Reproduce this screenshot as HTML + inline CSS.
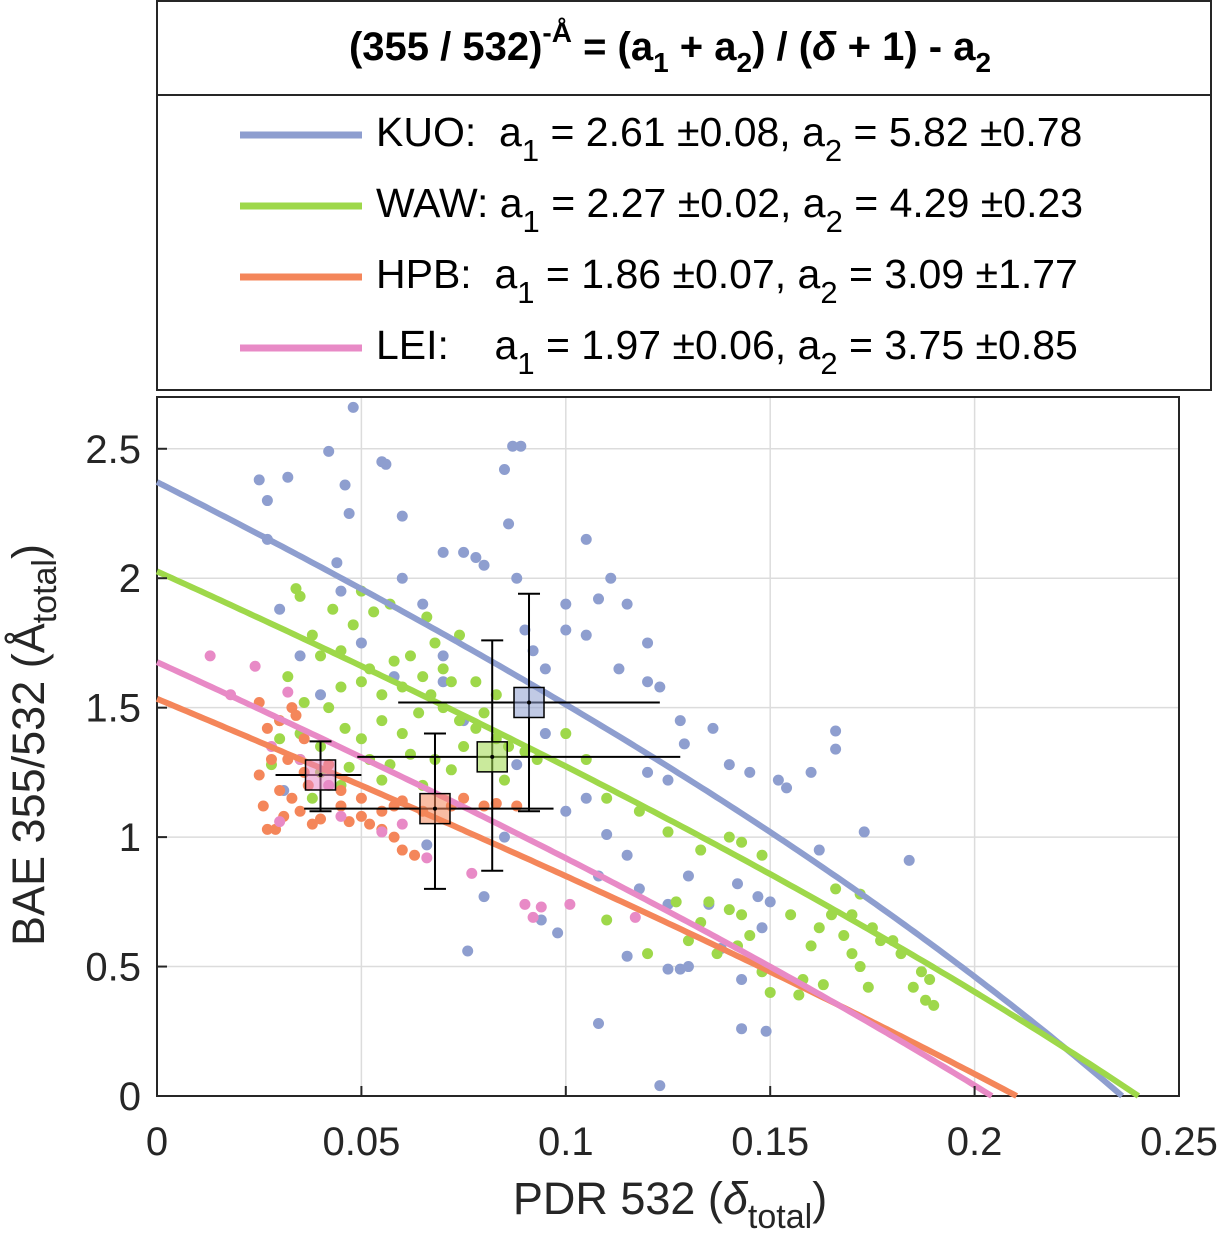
<!DOCTYPE html>
<html><head><meta charset="utf-8"><style>
body{margin:0;background:#fff;}
svg{display:block;font-family:"Liberation Sans",sans-serif;}
</style></head><body>
<svg id="chart" width="1222" height="1239" viewBox="0 0 1222 1239">
<rect x="157" y="1" width="1054" height="389" fill="#fff" stroke="#262626" stroke-width="2"/>
<line x1="157" y1="95" x2="1211" y2="95" stroke="#262626" stroke-width="2"/>
<text x="670" y="60" text-anchor="middle" font-size="40" font-weight="bold" fill="#000">(355 / 532)<tspan dy="-18" font-size="28">-Å</tspan><tspan dy="18"> = (a</tspan><tspan dy="12" font-size="28">1</tspan><tspan dy="-12"> + a</tspan><tspan dy="12" font-size="28">2</tspan><tspan dy="-12">) / (</tspan><tspan font-style="italic">δ</tspan><tspan> + 1) - a</tspan><tspan dy="12" font-size="28">2</tspan></text>
<g id="legend"></g>
<g id="grid"></g>
<rect x="157" y="397" width="1022" height="699" fill="none" stroke="#262626" stroke-width="2"/>
<g id="points"></g>
<g id="curves"></g>
<g id="errs"></g>
<g id="ticks"></g>
<text transform="translate(44,745) rotate(-90)" text-anchor="middle" font-size="45" fill="#262626">BAE 355/532 (Å<tspan dy="12" font-size="34">total</tspan><tspan dy="-12">)</tspan></text>
<text x="670" y="1214" text-anchor="middle" font-size="45" fill="#262626">PDR 532 (<tspan font-style="italic">δ</tspan><tspan dy="14" font-size="34">total</tspan><tspan dy="-14">)</tspan></text>
</svg>
<script>
const seriesNames=["KUO","WAW","HPB","LEI"];
const colors=["#8e9ecf","#9ed84a","#f4865a","#e88ac6"];
const a1=[2.61,2.27,1.86,1.97];
const a2=[5.82,4.29,3.09,3.75];
const legendParts=[["KUO:  a","1"," = 2.61 ±0.08, a","2"," = 5.82 ±0.78"],["WAW: a","1"," = 2.27 ±0.02, a","2"," = 4.29 ±0.23"],["HPB:  a","1"," = 1.86 ±0.07, a","2"," = 3.09 ±1.77"],["LEI:    a","1"," = 1.97 ±0.06, a","2"," = 3.75 ±0.85"]];
const xTicks=[0,0.05,0.1,0.15,0.2,0.25];
const xTickLabels=["0","0.05","0.1","0.15","0.2","0.25"];
const yTicks=[0,0.5,1,1.5,2,2.5];
const yTickLabels=["0","0.5","1","1.5","2","2.5"];
const kuoPts=[[0.048,2.66],[0.025,2.38],[0.032,2.39],[0.042,2.49],[0.027,2.3],[0.046,2.36],[0.055,2.45],[0.056,2.44],[0.087,2.51],[0.089,2.51],[0.085,2.42],[0.047,2.25],[0.06,2.24],[0.086,2.21],[0.027,2.15],[0.044,2.06],[0.07,2.1],[0.075,2.1],[0.078,2.08],[0.08,2.05],[0.088,2.0],[0.105,2.15],[0.1,1.9],[0.111,2.0],[0.108,1.92],[0.115,1.9],[0.12,1.75],[0.1,1.8],[0.105,1.78],[0.092,1.72],[0.095,1.65],[0.12,1.6],[0.123,1.58],[0.113,1.65],[0.128,1.45],[0.129,1.36],[0.136,1.42],[0.14,1.28],[0.145,1.25],[0.152,1.22],[0.154,1.19],[0.16,1.25],[0.166,1.41],[0.166,1.34],[0.162,0.95],[0.173,1.02],[0.184,0.91],[0.12,1.25],[0.125,1.22],[0.1,1.1],[0.105,1.15],[0.11,1.01],[0.108,0.85],[0.115,0.93],[0.118,0.8],[0.125,0.74],[0.13,0.85],[0.135,0.74],[0.142,0.82],[0.147,0.77],[0.15,0.75],[0.148,0.65],[0.138,0.57],[0.125,0.49],[0.128,0.49],[0.13,0.5],[0.143,0.45],[0.143,0.26],[0.149,0.25],[0.108,0.28],[0.123,0.04],[0.076,0.56],[0.094,0.68],[0.098,0.63],[0.115,0.54],[0.08,0.77],[0.085,1.0],[0.066,0.97],[0.07,1.6],[0.05,1.75],[0.04,1.55],[0.03,1.88],[0.035,1.7],[0.06,2.0],[0.065,1.9],[0.09,1.8],[0.07,1.7],[0.045,1.95],[0.058,1.62],[0.075,1.45],[0.095,1.4],[0.031,1.18],[0.088,1.28]];
const wawPts=[[0.034,1.96],[0.035,1.93],[0.043,1.88],[0.05,1.95],[0.053,1.87],[0.048,1.82],[0.057,1.9],[0.038,1.78],[0.04,1.7],[0.045,1.72],[0.052,1.65],[0.058,1.68],[0.062,1.7],[0.065,1.62],[0.068,1.75],[0.07,1.65],[0.072,1.6],[0.067,1.55],[0.06,1.58],[0.055,1.55],[0.05,1.6],[0.045,1.58],[0.042,1.5],[0.036,1.52],[0.032,1.62],[0.03,1.45],[0.035,1.4],[0.04,1.35],[0.046,1.42],[0.05,1.38],[0.055,1.45],[0.06,1.4],[0.064,1.48],[0.07,1.5],[0.074,1.45],[0.078,1.42],[0.08,1.48],[0.083,1.38],[0.086,1.35],[0.09,1.33],[0.093,1.3],[0.075,1.35],[0.068,1.3],[0.062,1.32],[0.057,1.28],[0.052,1.3],[0.047,1.27],[0.04,1.25],[0.035,1.3],[0.03,1.38],[0.028,1.28],[0.038,1.15],[0.045,1.2],[0.055,1.22],[0.065,1.2],[0.072,1.26],[0.085,1.22],[0.078,1.6],[0.066,1.85],[0.074,1.78],[0.083,1.55],[0.1,1.4],[0.105,1.3],[0.11,1.15],[0.118,1.1],[0.125,1.02],[0.133,0.95],[0.14,1.0],[0.143,0.98],[0.135,0.75],[0.133,0.67],[0.14,0.72],[0.143,0.7],[0.145,0.62],[0.142,0.58],[0.13,0.6],[0.137,0.55],[0.148,0.48],[0.15,0.4],[0.157,0.39],[0.158,0.45],[0.16,0.58],[0.162,0.65],[0.165,0.7],[0.168,0.62],[0.17,0.55],[0.172,0.5],[0.174,0.42],[0.175,0.65],[0.177,0.6],[0.18,0.6],[0.182,0.55],[0.185,0.42],[0.187,0.48],[0.189,0.45],[0.19,0.35],[0.188,0.37],[0.17,0.7],[0.163,0.43],[0.155,0.7],[0.127,0.75],[0.11,0.68],[0.12,0.55],[0.172,0.78],[0.166,0.8],[0.148,0.93]];
const hpbPts=[[0.025,1.52],[0.027,1.42],[0.03,1.45],[0.033,1.5],[0.034,1.47],[0.036,1.38],[0.028,1.3],[0.025,1.24],[0.03,1.18],[0.033,1.15],[0.035,1.1],[0.031,1.08],[0.027,1.03],[0.029,1.03],[0.038,1.05],[0.04,1.07],[0.045,1.12],[0.047,1.06],[0.05,1.08],[0.052,1.05],[0.055,1.03],[0.058,1.0],[0.06,0.95],[0.063,0.93],[0.042,1.28],[0.037,1.2],[0.032,1.3],[0.026,1.12],[0.045,1.18],[0.05,1.15],[0.055,1.1],[0.058,1.12],[0.06,1.14],[0.065,1.1],[0.072,1.12],[0.075,1.15],[0.08,1.12],[0.083,1.13],[0.088,1.12],[0.036,1.25]];
const leiPts=[[0.013,1.7],[0.024,1.66],[0.032,1.56],[0.018,1.55],[0.035,1.3],[0.028,1.35],[0.042,1.2],[0.045,1.08],[0.06,1.05],[0.066,0.92],[0.077,0.86],[0.092,0.69],[0.09,0.74],[0.094,0.73],[0.101,0.74],[0.117,0.69],[0.03,1.06],[0.055,1.02]];
const allPts=[kuoPts,wawPts,hpbPts,leiPts];
const meanX=[0.091,0.082,0.068,0.04];
const meanY=[1.52,1.31,1.11,1.24];
const errXLo=[0.059,0.049,0.036,0.029];
const errXHi=[0.123,0.128,0.097,0.05];
const errYLo=[1.1,0.87,0.8,1.1];
const errYHi=[1.94,1.76,1.4,1.37];
const meanOrder=[0,1,3,2];

const X0=157,X1=1179,Y0=1096,Y1=397,XMAX=0.25,YMAX=2.7;
const sx=v=>X0+v/XMAX*(X1-X0);
const sy=v=>Y0-v/YMAX*(Y0-Y1);
const NS="http://www.w3.org/2000/svg";
function mk(tag,attrs,parent){const e=document.createElementNS(NS,tag);for(const k in attrs)e.setAttribute(k,attrs[k]);document.getElementById(parent).appendChild(e);return e;}

seriesNames.forEach((n,i)=>{
  const y=131+i*71;
  const l=mk("line",{x1:240,y1:y+4,x2:362,y2:y+4,stroke:colors[i],"stroke-width":7},"legend");
  
  
  const t=mk("text",{x:376,y:y+15,"font-size":41,fill:"#000"},"legend");
  
  
  t.setAttribute('style','white-space:pre');
  const p=legendParts[i];
  t.innerHTML=p[0]+'<tspan dy="15" font-size="31">'+p[1]+'</tspan><tspan dy="-15">'+p[2]+'</tspan><tspan dy="15" font-size="31">'+p[3]+'</tspan><tspan dy="-15">'+p[4]+'</tspan>';
});

xTicks.forEach((v,i)=>{
  if(v>0&&v<XMAX){const g=mk("line",{x1:sx(v),y1:Y1,x2:sx(v),y2:Y0,stroke:"#dcdcdc","stroke-width":1.5},"grid");}
  const tk=mk("line",{x1:sx(v),y1:Y0,x2:sx(v),y2:Y0-10,stroke:"#262626","stroke-width":2},"ticks");
  
  const t=mk("text",{x:sx(v),y:1155,"text-anchor":"middle","font-size":40,fill:"#262626"},"ticks");
  
  t.textContent=xTickLabels[i];
});
yTicks.forEach((v,i)=>{
  if(v>0){const g=mk("line",{x1:X0,y1:sy(v),x2:X1,y2:sy(v),stroke:"#dcdcdc","stroke-width":1.5},"grid");}
  const tk=mk("line",{x1:X0,y1:sy(v),x2:X0+10,y2:sy(v),stroke:"#262626","stroke-width":2},"ticks");
  
  const t=mk("text",{x:141,y:sy(v)+14,"text-anchor":"end","font-size":40,fill:"#262626"},"ticks");
  
  t.textContent=yTickLabels[i];
});

allPts.forEach((pts,i)=>{pts.forEach(p=>{
  const c=mk("circle",{cx:sx(p[0]),cy:sy(p[1]),r:5.5,fill:colors[i]},"points");
  
  
});});

const L=Math.log(355/532);
seriesNames.forEach((n,i)=>{
  let d="";const dmax=(a1[i]+a2[i])/(a2[i]+1)-1;
  for(let k=0;k<=200;k++){const x=dmax*k/200;const v=(a1[i]+a2[i])/(x+1)-a2[i];const y=-Math.log(Math.max(v,1e-9))/L;d+=(k?"L":"M")+sx(x).toFixed(1)+","+sy(Math.max(y,0)).toFixed(1);}
  const p=mk("path",{d:d,fill:"none",stroke:colors[i],"stroke-width":6},"curves");
  
  
});

meanOrder.forEach(i=>{
  const n=seriesNames[i].toLowerCase();
  const h=mk("line",{x1:sx(errXLo[i]),y1:sy(meanY[i]),x2:sx(errXHi[i]),y2:sy(meanY[i]),stroke:"#000","stroke-width":2},"errs");
  
  const v=mk("line",{x1:sx(meanX[i]),y1:sy(errYLo[i]),x2:sx(meanX[i]),y2:sy(errYHi[i]),stroke:"#000","stroke-width":2},"errs");
  
  [errYLo[i],errYHi[i]].forEach(e=>{const c=mk("line",{x1:sx(meanX[i])-11,y1:sy(e),x2:sx(meanX[i])+11,y2:sy(e),stroke:"#000","stroke-width":2},"errs");});
  const r=mk("rect",{x:sx(meanX[i])-15,y:sy(meanY[i])-15,width:30,height:30,fill:colors[i],"fill-opacity":0.55,stroke:"#000","stroke-width":1.5},"errs");
  
  const c=mk("circle",{cx:sx(meanX[i]),cy:sy(meanY[i]),r:2,fill:"#000"},"errs");
  
});
</script>
</body></html>
